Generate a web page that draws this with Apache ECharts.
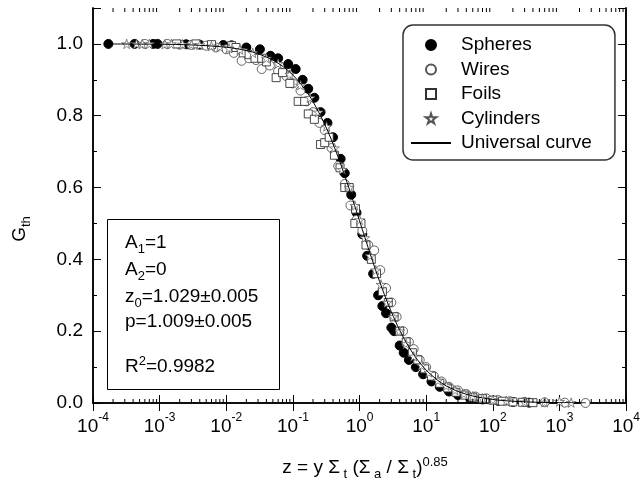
<!DOCTYPE html>
<html lang="en">
<head>
    <meta charset="UTF-8">
    <title>Thermal self-shielding factor</title>
    <style>
        html, body { margin: 0; padding: 0; background: #fff; }
        .box { width: 643px; height: 481px; }
    </style>
    <script src="https://cdn.jsdelivr.net/npm/echarts@6.0.0/dist/echarts.min.js"></script>
</head>
<body>
<div class="box"></div>
<script>
// data: [z, Gth]
var spheres = [[1.7e-4,1.0],[4.2e-4,1.0],[8e-4,1.0],[9.3e-4,1.0],[2.5e-3,0.999],[4e-3,0.998],[9e-3,0.997],[0.012,0.996],
    [0.02,0.99],[0.032,0.985],[0.046,0.967],[0.06,0.96],[0.085,0.944],[0.11,0.93],[0.14,0.9],[0.17,0.875],[0.21,0.85],
    [0.26,0.81],[0.33,0.78],[0.4,0.74],[0.52,0.68],[0.6,0.64],[0.75,0.58],[0.9,0.53],[1.1,0.47],[1.3,0.41],[1.6,0.36],
    [1.9,0.3],[2.2,0.27],[2.5,0.25],[3.0,0.21],[3.3,0.2],[4.0,0.16],[4.6,0.14],[5.5,0.12],[7,0.1],[9,0.08],[12,0.06],
    [16,0.045],[22,0.032],[30,0.022],[45,0.015],[70,0.01],[120,0.006],[200,0.003],[350,0.001]];
var wires = [[6e-4,1.0],[1.3e-3,1.0],[2e-3,0.998],[3e-3,0.997],[5e-3,0.995],[7e-3,0.99],[0.01,0.985],[0.013,0.975],
    [0.017,0.953],[0.022,0.96],[0.028,0.955],[0.034,0.93],[0.045,0.94],[0.06,0.925],[0.08,0.91],[0.1,0.89],[0.13,0.87],
    [0.16,0.84],[0.2,0.81],[0.25,0.78],[0.3,0.76],[0.38,0.71],[0.48,0.66],[0.6,0.61],[0.73,0.55],[0.9,0.51],[1.1,0.48],
    [1.35,0.44],[1.66,0.425],[2.05,0.37],[2.5,0.32],[3,0.28],[3.6,0.24],[4.5,0.2],[5.5,0.17],[6.5,0.15],[8,0.12],
    [10,0.1],[13,0.075],[17,0.06],[22,0.045],[30,0.035],[40,0.025],[55,0.018],[80,0.013],[120,0.008],[180,0.005],
    [300,0.003],[600,0.002],[1200,0.001],[2460,0.0]];
var foils = [[1.8e-3,1.0],[3.5e-3,1.0],[6e-3,0.998],[0.012,0.995],[0.014,0.99],[0.018,0.975],[0.022,0.97],[0.027,0.96],
    [0.034,0.96],[0.04,0.95],[0.056,0.906],[0.07,0.92],[0.09,0.89],[0.12,0.84],[0.15,0.84],[0.17,0.805],[0.21,0.79],
    [0.26,0.72],[0.3,0.725],[0.35,0.74],[0.42,0.69],[0.51,0.655],[0.6,0.6],[0.7,0.6],[0.85,0.5],[0.87,0.54],[1.05,0.5],
    [1.25,0.44],[1.5,0.4],[1.8,0.36],[2.2,0.31],[2.7,0.28],[3.3,0.24],[4,0.2],[5,0.17],[6.2,0.14],[7.5,0.12],[9.5,0.095],
    [12,0.075],[16,0.055],[21,0.042],[28,0.03],[38,0.022],[50,0.016],[70,0.012],[100,0.008],[140,0.005],[200,0.003],
    [280,0.002],[400,0.001]];
var cylinders = [[3.2e-4,1.0],[4.5e-4,1.0],[5.5e-4,1.0],[7e-4,1.0],[1.2e-3,0.999],[1.5e-3,1.0],[2.2e-3,0.999],[3e-3,0.998],
    [4e-3,0.997],[6e-3,0.994],[8e-3,0.992],[0.011,0.988],[0.016,0.984],[0.025,0.975],[0.04,0.96],[0.06,0.945],[0.09,0.915],
    [0.13,0.885],[0.18,0.85],[0.24,0.81],[0.32,0.77],[0.42,0.71],[0.55,0.65],[0.7,0.6],[0.85,0.55],[1.0,0.51],[1.2,0.46],
    [1.45,0.41],[1.75,0.37],[2.1,0.33],[2.6,0.28],[3.2,0.24],[4,0.2],[5,0.165],[6.5,0.13],[8.5,0.105],[11,0.085],
    [15,0.063],[20,0.048],[27,0.036],[37,0.026],[50,0.019],[70,0.013],[100,0.009],[160,0.006],[300,0.003],[600,0.002],
    [1000,0.004],[1500,0.001]];
// universal curve
var curveZ = [1.7e-4,1e-3,3e-3,0.01,0.02,0.03,0.05,0.07,0.1,0.15,0.2,0.3,0.4,0.5,0.6,0.7,0.8,1.0,1.2,1.5,2,2.5,3,4,5,7,10,15,20,30,50,100,200,500,1000,2500];
var curveG = [0.9998,0.9991,0.9972,0.9908,0.9816,0.9725,0.9548,0.9377,0.9132,0.8747,0.8393,0.7762,0.7218,0.6744,0.6328,0.5960,0.5632,0.5072,0.4613,0.4060,0.3384,0.2899,0.2536,0.2026,0.1687,0.1262,0.0916,0.0628,0.0477,0.0322,0.0195,0.0098,0.0049,0.0019,0.0010,0.0004];
// log minor ticks 2..9 of every decade
var minorTicks = [];
for (var e = -4; e < 4; e++) {
    for (var k = 2; k <= 9; k++) minorTicks.push(k * Math.pow(10, e));
}
var boxLines = ['{n|A}{b|1}{n|=1}', '{n|A}{b|2}{n|=0}', '{n|z}{b|0}{n|=1.029±0.005}', '{n|p=1.009±0.005}', '{n|R}{t|2}{n|=0.9982}'];

var FONT = 'Liberation Sans, Arial, sans-serif';
var STAR = 'path://M50,0 L61,35 L98,35 L68,57 L79,91 L50,70 L21,91 L32,57 L2,35 L39,35 Z';
var SQUARE = 'path://M0,0 L10,0 L10,10 L0,10 Z';
// n = normal, b = subscript, t = superscript
var richText = {
    n: {fontFamily: FONT, fontSize: 19, lineHeight: 19, color: '#000', verticalAlign: 'middle'},
    b: {fontFamily: FONT, fontSize: 13, lineHeight: 13, color: '#000', verticalAlign: 'middle', padding: [12, 0, 0, 0]},
    t: {fontFamily: FONT, fontSize: 13, lineHeight: 13, color: '#000', verticalAlign: 'middle', padding: [0, 0, 11, 0]}
};

var curve = [];
for (var i = 0; i < curveZ.length; i++) curve.push([curveZ[i], curveG[i]]);

var chart = echarts.init(document.getElementsByClassName('box')[0], null, {renderer: 'canvas'});

var axisLine = {show: true, lineStyle: {color: '#000', width: 1.5}};
function xAxisOf(pos, showLabel) {
    return {
        type: 'log', logBase: 10, min: 1e-4, max: 1e4, interval: 1, position: pos,
        axisLine: axisLine, splitLine: {show: false},
        axisTick: {show: true, inside: true, length: 8, lineStyle: {color: '#000', width: 1}},
        axisLabel: {
            show: showLabel, margin: 14,
            formatter: function (v) {
                return '{b|10}{s|' + Math.round(Math.log10(v)) + '}';
            },
            rich: {
                b: {fontFamily: FONT, fontSize: 19, lineHeight: 19, color: '#000', verticalAlign: 'middle'},
                s: {fontFamily: FONT, fontSize: 12, lineHeight: 12, color: '#000', verticalAlign: 'middle', padding: [0, 0, 17, 0]}
            }
        }
    };
}
function yAxisOf(pos, step, len, showLabel) {
    return {
        type: 'value', min: 0, max: 1.1, interval: step, position: pos,
        axisLine: axisLine, splitLine: {show: false},
        axisTick: {show: true, inside: true, length: len, lineStyle: {color: '#000', width: 1}},
        axisLabel: {
            show: showLabel, margin: 10, color: '#000', fontFamily: FONT, fontSize: 19,
            formatter: function (v) { return v > 1.05 ? '' : v.toFixed(1); }
        }
    };
}

var option = {
    animation: false,
    backgroundColor: '#fff',
    grid: {left: 93, right: 12, top: 8, bottom: 78},
    xAxis: [xAxisOf('bottom', true), xAxisOf('top', false)],
    yAxis: [yAxisOf('left', 0.2, 8, true), yAxisOf('left', 0.1, 4, false),
            yAxisOf('right', 0.2, 8, false), yAxisOf('right', 0.1, 4, false)],
    legend: {
        orient: 'vertical', left: 403, top: 25, padding: [10, 23, 7, 7],
        itemGap: 4.5, itemWidth: 40, itemHeight: 10, selectedMode: false,
        borderColor: '#333', borderWidth: 1.5, borderRadius: 10, backgroundColor: '#fff',
        textStyle: {fontFamily: FONT, fontSize: 19, lineHeight: 20, color: '#000', padding: [0, 0, 0, 5]},
        data: ['Spheres', 'Wires', 'Foils', 'Cylinders', {name: 'Universal curve', itemStyle: {opacity: 0}}]
    },
    graphic: [
        {type: 'rect', left: 107, top: 219, shape: {width: 172, height: 170},
         style: {fill: '#fff', stroke: '#000', lineWidth: 1}, z: 10},
        {type: 'text', x: 20, y: 229, rotation: Math.PI / 2, z: 10,
         style: {text: '{n|G}{b|th}', align: 'center', verticalAlign: 'middle', rich: richText}},
        {type: 'text', x: 365, y: 468, z: 10,
         style: {text: '{n|z = y Σ}{b| t}{n| (Σ}{b| a}{n| / Σ}{b| t}{n|)}{t|0.85}', align: 'center', verticalAlign: 'middle', rich: richText}}
    ],
    series: [
        {name: 'Spheres', type: 'scatter', data: spheres, symbol: 'circle', symbolSize: 9,
         itemStyle: {color: '#000', borderColor: '#000', borderWidth: 1, opacity: 1}},
        {name: 'Wires', type: 'scatter', data: wires, symbol: 'circle', symbolSize: 9,
         itemStyle: {color: '#fff', borderColor: '#555', borderWidth: 0.9, opacity: 1}},
        {name: 'Foils', type: 'scatter', data: foils, symbol: SQUARE, symbolSize: 8, symbolKeepAspect: true,
         itemStyle: {color: '#fff', borderColor: '#333', borderWidth: 0.9, opacity: 1}},
        {name: 'Cylinders', type: 'scatter', data: cylinders, symbol: STAR, symbolSize: 10, symbolKeepAspect: true,
         itemStyle: {color: '#fff', borderColor: '#555', borderWidth: 0.7, opacity: 1}},
        {name: 'Universal curve', type: 'line', data: curve, symbol: 'none', showSymbol: false, smooth: 0.3,
         lineStyle: {color: '#000', width: 1}, itemStyle: {color: '#000'}, z: 5},
        {name: 'minor', type: 'custom', silent: true, clip: false, z: 6,
         data: minorTicks.map(function (v) { return [v, 0]; }),
         renderItem: function (params, api) {
             var v = api.value(0);
             var b = api.coord([v, 0]);
             var t = api.coord([v, 1.1]);
             var st = {stroke: '#000', lineWidth: 1};
             return {type: 'group', children: [
                 {type: 'line', shape: {x1: b[0], y1: b[1], x2: b[0], y2: b[1] - 4}, style: st},
                 {type: 'line', shape: {x1: t[0], y1: t[1], x2: t[0], y2: t[1] + 4}, style: st}
             ]};
         }}
    ]
};
// text box lines
var lineY = [243, 270, 297, 322, 367];
for (var j = 0; j < boxLines.length; j++) {
    option.graphic.push({type: 'text', x: 125, y: lineY[j], z: 11,
        style: {text: boxLines[j], verticalAlign: 'middle', rich: richText}});
}
chart.setOption(option);
</script>
</body>
</html>
